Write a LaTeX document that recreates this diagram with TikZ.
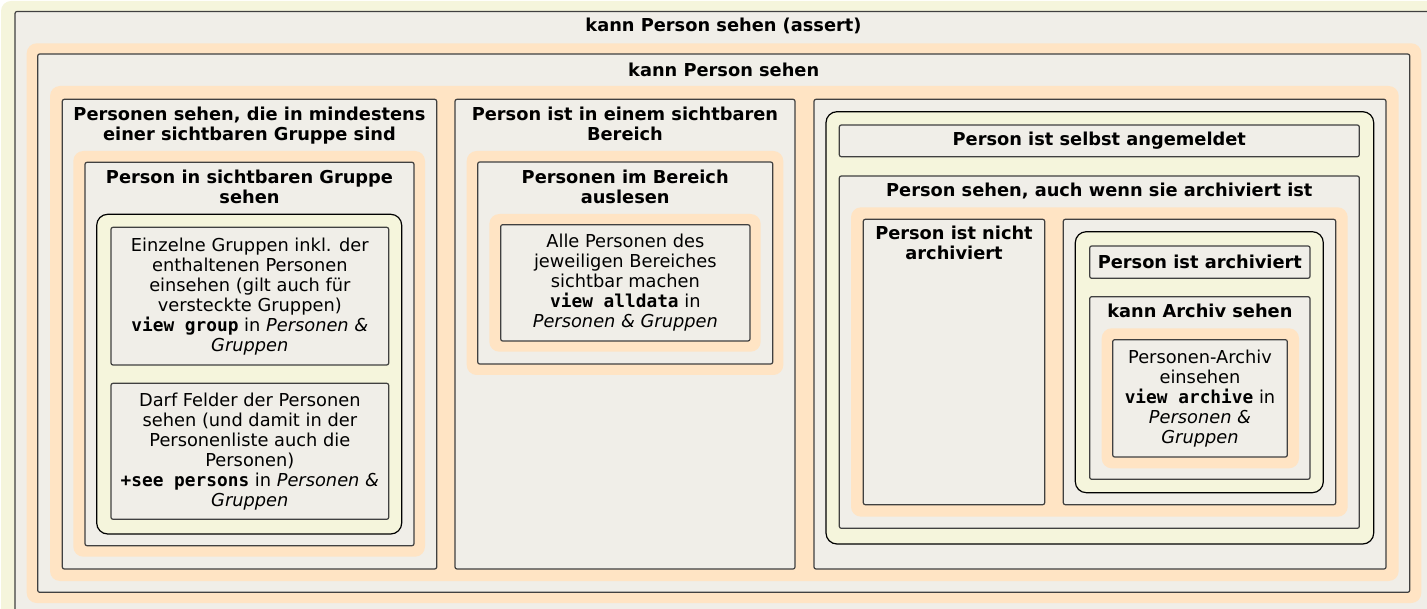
\documentclass[tikz,border=0pt]{standalone}
\usepackage{fontspec}
\setmainfont{DejaVu Sans}
\setmonofont{DejaVu Sans Mono}
\usepackage{tikz}
\usetikzlibrary{positioning, fit}
\definecolor{cpanel}{RGB}{240,238,232}
\definecolor{chalo}{RGB}{255,228,196}
\definecolor{ccream}{RGB}{245,245,220}
\tikzset{
  box/.style={
    rectangle, rounded corners=2pt, draw=black!75, line width=1.2pt,
    fill=cpanel, inner sep=0pt
  },
  halo/.style={
    rectangle, rounded corners=10pt, fill=chalo, inner sep=0pt
  },
  grp/.style={
    rectangle, rounded corners=11pt, draw=black, line width=1.2pt,
    fill=ccream, inner sep=0pt
  },
  ttl/.style={font=\bfseries, align=center, inner sep=0pt},
  txt/.style={align=center, inner sep=0pt}
}

\begin{document}
\fontsize{17.8}{20}\selectfont
\begin{tikzpicture}[x=1pt, y=-1pt]
\useasboundingbox (0,0) rectangle (1427,609);
\clip (0,0) rectangle (1427,609);
\fill[ccream, rounded corners=10pt] (1,1) rectangle (1450,630);

% Outer levels
\node[box, fit={(15,11.5)(1432,615)}] (assert) {};
\node[ttl, below=7pt of assert.north] (assertT) {kann Person sehen (assert)};
\node[halo, fit={(26.7,43.3)(1421.3,603)}] (h1) {};
\node[box, fit={(37.7,54)(1409.7,592.3)}] (sehen) {};
\node[ttl, below=9.5pt of sehen.north] (sehenT) {kann Person sehen};
\node[halo, fit={(50,86)(1398.7,581)}] (h2) {};

% Column 1 — Gruppen
\node[box, fit={(62.3,99.3)(436.7,569)}] (grp) {};
\node[ttl, below=8pt of grp.north] (grpT) {Personen sehen, die in mindestens\\einer sichtbaren Gruppe sind};
\node[halo, fit={(73.3,151)(425,556.7)}] (h3) {};
\node[box, fit={(85,162.3)(414,545.7)}] (grpsee) {};
\node[ttl, below=8pt of grpsee.north] (grpseeT) {Person in sichtbaren Gruppe\\sehen};
\node[grp, fit={(96.7,214.3)(401.7,534)}] (grpor) {};
\node[box, fit={(111,227.3)(388.7,365)}] (viewgrp) {};
\node[txt] at (viewgrp.center) {Einzelne Gruppen inkl. der\\enthaltenen Personen\\einsehen (gilt auch für\\versteckte Gruppen)\\\texttt{\bfseries view group} in \textit{Personen \&}\\\textit{Gruppen}};
\node[box, fit={(111,383.3)(388.7,519.3)}] (seepers) {};
\node[txt] at (seepers.center) {Darf Felder der Personen\\sehen (und damit in der\\Personenliste auch die\\Personen)\\\texttt{\bfseries +see persons} in \textit{Personen \&}\\\textit{Gruppen}};

% Column 2 — Bereich
\node[box, fit={(455,99.3)(795,569)}] (ber) {};
\node[ttl, below=8pt of ber.north] (berT) {Person ist in einem sichtbaren\\Bereich};
\node[halo, fit={(466.7,151)(783.3,375)}] (h4) {};
\node[box, fit={(477.7,162)(772.7,364)}] (berread) {};
\node[ttl, below=8pt of berread.north] (berreadT) {Personen im Bereich\\auslesen};
\node[halo, fit={(489.3,214)(760.7,351.7)}] (h5) {};
\node[box, fit={(500.7,224.7)(750,341)}] (alldata) {};
\node[txt] at (alldata.center) {Alle Personen des\\jeweiligen Bereiches\\sichtbar machen\\\texttt{\bfseries view alldata} in\\\textit{Personen \& Gruppen}};

% Column 3 — selbst / Archiv
\node[box, fit={(814,99.3)(1386,569)}] (self) {};
\node[grp, fit={(826,111.7)(1373.7,544)}] (selfor) {};
\node[box, fit={(839.3,125)(1359.3,156.7)}] (login) {};
\node[ttl] at (login.center) {Person ist selbst angemeldet};
\node[box, fit={(839.3,176)(1359.3,528.3)}] (arch) {};
\node[ttl, below=7.5pt of arch.north] (archT) {Person sehen, auch wenn sie archiviert ist};
\node[halo, fit={(851,207.3)(1347.7,516.7)}] (h6) {};
\node[box, fit={(863.3,219.3)(1044.7,504.7)}] (notarch) {};
\node[ttl, below=7.5pt of notarch.north] (notarchT) {Person ist nicht\\archiviert};
\node[box, fit={(1063.3,219.3)(1335.7,504.7)}] (isarch) {};
\node[grp, fit={(1075.3,231.7)(1323.3,492.7)}] (isarchand) {};
\node[box, fit={(1089.7,246)(1310,278.3)}] (archflag) {};
\node[ttl] at (archflag.center) {Person ist archiviert};
\node[box, fit={(1089.7,296.7)(1310,479.3)}] (archsee) {};
\node[ttl, below=8pt of archsee.north] (archseeT) {kann Archiv sehen};
\node[halo, fit={(1101.7,328.3)(1299,468.3)}] (h7) {};
\node[box, fit={(1112.7,339.7)(1287.3,457)}] (viewarch) {};
\node[txt] at (viewarch.center) {Personen-Archiv\\einsehen\\\texttt{\bfseries view archive} in\\\textit{Personen \&}\\\textit{Gruppen}};

\end{tikzpicture}
\end{document}
